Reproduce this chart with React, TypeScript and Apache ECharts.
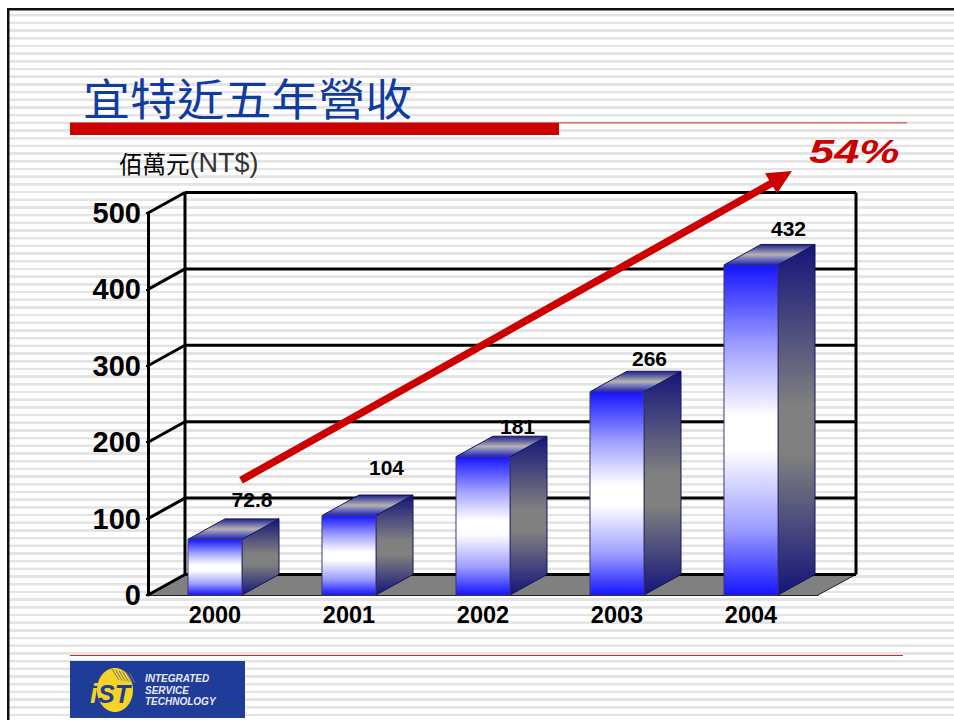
import React, { useEffect, useRef } from "react";
import * as echarts from "echarts";

const categories = ["2000", "2001", "2002", "2003", "2004"];
const revenue = [72.8, 104, 181, 266, 432];
const yTicks = [0, 100, 200, 300, 400, 500];
const titleText = "宜特近五年營收";
const unitCjk = "佰萬元";
const unitLatin = "(NT$)";
const growthText = "54%";
const logoLines = ["INTEGRATED", "SERVICE", "TECHNOLOGY"];

// how far each value label floats above its bar's rear top edge, and its sideways shift from the rear centre
const labelLift = [10, 19, 1, 4, 7];
const labelShift = [0.5, 1, -2, -4, 1];

const DEPTH_X = 37;
const DEPTH_Y = 20.5;
const SANS = '"Liberation Sans", Arial, sans-serif';
const RED = "#CC0000";
const AXIS = "#000";

const grad = (stops: [number, string][]) =>
  new echarts.graphic.LinearGradient(
    0,
    0,
    0,
    1,
    stops.map(([offset, color]) => ({ offset, color }))
  );

const poly = (points: number[][], fill: any, stroke = "#14145a", lineWidth = 1) => ({
  type: "polygon",
  shape: { points },
  style: { fill, stroke, lineWidth },
});

const seg = (x1: number, y1: number, x2: number, y2: number, stroke = AXIS, lineWidth = 3) => ({
  type: "line",
  shape: { x1, y1, x2, y2 },
  style: { stroke, lineWidth },
});

function renderWall(params: any, api: any) {
  const cs = params.coordSys;
  const v = api.value(1);
  const [, y] = api.coord([0, v]);
  const left = cs.x;
  const right = cs.x + cs.width;
  const children: any[] = [];
  if (v === 0) {
    children.push({
      type: "polygon",
      shape: {
        points: [
          [left, y],
          [left + DEPTH_X, y - DEPTH_Y],
          [right + DEPTH_X + 1, y - DEPTH_Y],
          [right, y],
        ],
      },
      style: { fill: "#808080" },
    });
    children.push(seg(right, y, right + DEPTH_X + 1, y - DEPTH_Y, "#222", 1));
    const top = cs.y - DEPTH_Y;
    children.push(seg(left + DEPTH_X, top, left + DEPTH_X, y - DEPTH_Y));
    children.push(seg(right + DEPTH_X + 1, top, right + DEPTH_X + 1, y - DEPTH_Y));
  }
  children.push(seg(left + DEPTH_X, y - DEPTH_Y, right + DEPTH_X + 1, y - DEPTH_Y));
  children.push(seg(left, y, left + DEPTH_X, y - DEPTH_Y));
  return { type: "group", children };
}

function renderBar(params: any, api: any) {
  const idx = api.value(0);
  const v = api.value(1);
  const [cx, top] = api.coord([idx, v]);
  const [, base] = api.coord([idx, 0]);
  const half = api.size([1, 0])[0] * 0.2015;
  const l = cx - half;
  const r = cx + half;
  const dx = DEPTH_X;
  const dy = DEPTH_Y;
  const front = poly(
    [
      [l, top],
      [r, top],
      [r, base],
      [l, base],
    ],
    grad([
      [0, "#1414ff"],
      [0.24, "#9c9cff"],
      [0.46, "#ffffff"],
      [0.56, "#ffffff"],
      [0.8, "#9c9cff"],
      [1, "#1414ff"],
    ]),
    "#3a3a70"
  );
  const side = poly(
    [
      [r, top],
      [r + dx, top - dy],
      [r + dx, base - dy],
      [r, base],
    ],
    grad([
      [0, "#14147a"],
      [0.46, "#808080"],
      [0.6, "#808080"],
      [1, "#14147a"],
    ])
  );
  const cap = poly(
    [
      [l, top],
      [l + dx, top - dy],
      [r + dx, top - dy],
      [r, top],
    ],
    grad([
      [0, "#20208c"],
      [0.5, "#b4b4b4"],
      [1, "#2020c0"],
    ])
  );
  const label = {
    type: "text",
    x: cx + dx - 0.5 + labelShift[idx],
    y: top - dy - 9 - labelLift[idx],
    style: {
      text: String(v),
      font: `bold 21px ${SANS}`,
      fill: "#000",
      textAlign: "center",
      textVerticalAlign: "middle",
    },
  };
  return { type: "group", children: [side, cap, front, label] };
}

const hatch = [0, 1, 2, 3, 4, 5];

function buildOption() {
  return {
    animation: false,
    backgroundColor: "transparent",
    textStyle: { fontFamily: SANS },
    grid: { left: 148, right: 136, top: 213, bottom: 125 },
    xAxis: {
      type: "category",
      data: categories,
      z: 3,
      axisLine: { lineStyle: { color: "#222", width: 1.2 } },
      axisTick: { inside: true, length: 7, lineStyle: { color: "#222", width: 1 } },
      axisLabel: { color: "#000", fontFamily: SANS, fontWeight: "bold", fontSize: 23.5, margin: 8 },
      splitLine: { show: false },
    },
    yAxis: {
      type: "value",
      min: 0,
      max: 500,
      interval: 100,
      z: 3,
      axisLine: { show: true, lineStyle: { color: "#000", width: 3 } },
      axisTick: { show: true, length: 2, lineStyle: { color: "#000", width: 2 } },
      axisLabel: { color: "#000", fontFamily: SANS, fontWeight: "bold", fontSize: 29, margin: 7 },
      splitLine: { show: false },
    },
    series: [
      {
        type: "custom",
        name: "wall",
        z: 1,
        silent: true,
        clip: false,
        renderItem: renderWall,
        data: yTicks.map((v) => [0, v]),
        encode: { x: 0, y: 1 },
      },
      {
        type: "custom",
        name: "營收",
        z: 4,
        silent: true,
        clip: false,
        renderItem: renderBar,
        data: revenue.map((v, i) => [i, v]),
        encode: { x: 0, y: 1 },
      },
    ],
    graphic: [
      // outer margin and slide frame
      { type: "rect", z: 10, shape: { x: 0, y: 0, width: 7, height: 720 }, style: { fill: "#fff" } },
      { type: "rect", z: 10, shape: { x: 0, y: 0, width: 954, height: 8 }, style: { fill: "#fff" } },
      { type: "rect", z: 11, shape: { x: 7, y: 8, width: 947, height: 2.5 }, style: { fill: "#111" } },
      { type: "rect", z: 11, shape: { x: 7, y: 8, width: 2.5, height: 712 }, style: { fill: "#111" } },
      // title and rules
      {
        type: "text",
        z: 12,
        x: 83,
        y: 97,
        scaleX: 1.07,
        style: {
          text: titleText,
          font: `44px "Noto Sans CJK TC"`,
          fill: "#0F3C9E",
          textAlign: "left",
          textVerticalAlign: "middle",
        },
      },
      { type: "rect", z: 11, shape: { x: 70, y: 122, width: 837, height: 1.4 }, style: { fill: "#D87070" } },
      { type: "rect", z: 12, shape: { x: 70, y: 123, width: 489, height: 12 }, style: { fill: RED } },
      // unit label
      {
        type: "text",
        z: 12,
        x: 119,
        y: 163,
        style: {
          text: `{a|${unitCjk}}{b|${unitLatin}}`,
          textVerticalAlign: "middle",
          rich: {
            a: { fontFamily: "Noto Sans CJK TC", fontSize: 23.5, fill: "#000" },
            b: { fontFamily: "Liberation Sans", fontSize: 27, fill: "#333" },
          },
        },
      },
      // growth arrow
      { type: "line", z: 20, shape: { x1: 241, y1: 480.3, x2: 772, y2: 183 }, style: { stroke: RED, lineWidth: 7.5 } },
      {
        type: "polygon",
        z: 20,
        shape: { points: [[792, 171], [765, 173.3], [777, 193.5]] },
        style: { fill: RED },
      },
      {
        type: "text",
        z: 20,
        x: 809,
        y: 151,
        scaleX: 1.33,
        style: {
          text: growthText,
          font: `italic bold 34px ${SANS}`,
          fill: RED,
          textAlign: "left",
          textVerticalAlign: "middle",
        },
      },
      // footer rule
      { type: "rect", z: 11, shape: { x: 70, y: 655, width: 833, height: 1 }, style: { fill: "#C83030" } },
      // logo
      { type: "rect", z: 11, shape: { x: 70, y: 661, width: 175, height: 57 }, style: { fill: "#1F3C98" } },
      { type: "ellipse", z: 12, shape: { cx: 115, cy: 690, rx: 18, ry: 22 }, style: { fill: "#F5D428" } },
      ...hatch.map((i) => ({
        type: "line",
        z: 13,
        shape: { x1: 112 + i * 3.5, y1: 669 + i * 0.8, x2: 119 + i * 3.2, y2: 680 + i * 0.6 },
        style: { stroke: "#6f7a7a", lineWidth: 1 },
      })),
      {
        type: "text",
        z: 14,
        x: 90,
        y: 694,
        style: {
          text: "i",
          font: `italic bold 27px ${SANS}`,
          fill: "#F5D428",
          textAlign: "left",
          textVerticalAlign: "middle",
        },
      },
      {
        type: "text",
        z: 14,
        x: 98,
        y: 694,
        style: {
          text: "ST",
          font: `italic bold 25px ${SANS}`,
          fill: "#1F3C98",
          textAlign: "left",
          textVerticalAlign: "middle",
        },
      },
      ...logoLines.map((t, i) => ({
        type: "text",
        z: 14,
        x: 145,
        y: 678.5 + i * 11.5,
        style: {
          text: t,
          font: `italic bold 10px ${SANS}`,
          fill: "#E6EAF6",
          textAlign: "left",
          textVerticalAlign: "middle",
        },
      })),
    ],
  };
}

export default function App() {
  const ref = useRef<HTMLDivElement>(null);
  useEffect(() => {
    document.body.style.margin = "0";
    const chart = echarts.init(ref.current!, undefined, { renderer: "svg" });
    chart.setOption(buildOption() as any);
    return () => chart.dispose();
  }, []);
  const stripes =
    "repeating-linear-gradient(to bottom, #e4e4e4 0px, #e4e4e4 0.9px, #fff 1.3px, #fff 6px, #e4e4e4 6.4px, #e4e4e4 7.69px)";
  return (
    <div
      style={{
        position: "absolute",
        left: 0,
        top: 0,
        width: 954,
        height: 720,
        overflow: "hidden",
        background: stripes,
      }}
    >
      <div ref={ref} style={{ width: 954, height: 720 }} />
    </div>
  );
}
